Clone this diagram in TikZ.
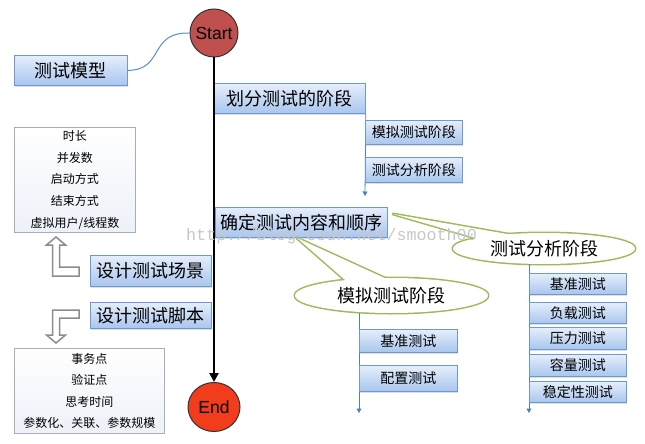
\documentclass[tikz,border=0pt]{standalone}
\usepackage{fontspec}
\setmainfont{Noto Sans CJK SC}
\newfontfamily\latinfont{Liberation Sans}
\newfontfamily\wmfont{Liberation Mono}
\usetikzlibrary{shapes.geometric,shadows,arrows.meta}
\definecolor{boxtop}{HTML}{E6EEFA}
\definecolor{boxbot}{HTML}{A8C6EE}
\definecolor{boxline}{HTML}{6A99D4}
\definecolor{branch}{HTML}{4F81BD}
\definecolor{callgreen}{HTML}{9BBB59}
\definecolor{startred}{HTML}{C0504D}
\definecolor{endred}{HTML}{F23C1C}
\definecolor{listline}{HTML}{A6AEBE}
\definecolor{listbot}{HTML}{EDF1F8}
\definecolor{curveblue}{HTML}{5B8CC8}
\definecolor{hollowgray}{HTML}{8C8C8C}
\begin{document}
\begin{tikzpicture}[x=1pt,y=-1pt,
  bbox/.style={draw=boxline, line width=0.8pt, top color=boxtop, bottom color=boxbot,
    inner sep=0pt, anchor=north west, font=\fontsize{18}{18}\selectfont,
    drop shadow={shadow xshift=1pt,shadow yshift=-1.2pt,opacity=0.25}},
  sbox/.style={bbox, font=\fontsize{14}{14}\selectfont},
  lbox/.style={draw=listline, line width=0.8pt, top color=white, bottom color=listbot,
    inner sep=0pt, anchor=north west, align=center, font=\fontsize{12}{21.6}\selectfont},
  branchline/.style={draw=branch, line width=0.8pt, -{Triangle[width=5pt,length=4.5pt]}},
  calloutline/.style={draw=callgreen, line width=3pt, line join=round},
  calltext/.style={font=\fontsize{18}{18}\selectfont},
  hollow/.style={draw=hollowgray, line width=1.5pt, fill=white, line join=miter},
]
\useasboundingbox (0,0) rectangle (645,444);

% left column
\node[bbox, minimum width=113pt, minimum height=30pt] (model) at (14,55) {测试模型};
\node[lbox, minimum width=121pt, minimum height=105pt] (params) at (14,127)
  {时长\\并发数\\启动方式\\结束方式\\虚拟用户/线程数};
\node[bbox, minimum width=121pt, minimum height=31pt] (scene) at (90,255) {设计测试场景};
\node[bbox, minimum width=121pt, minimum height=26pt] (script) at (90,302) {设计测试脚本};
\node[lbox, minimum width=150pt, minimum height=85pt] (points) at (14,348)
  {事务点\\验证点\\思考时间\\参数化、关联、参数规模};

% hollow L arrows
\draw[hollow] (56,237) -- (65.5,245) -- (59.5,245) -- (59.5,267) -- (79,267) -- (79,276)
  -- (52.5,276) -- (52.5,245) -- (46.5,245) -- cycle;
\draw[hollow] (79,310) -- (79,318) -- (59.5,318) -- (59.5,335) -- (65.5,335) -- (56,343)
  -- (46.5,335) -- (52.5,335) -- (52.5,310) -- cycle;

% start / end
\node[circle, draw=black!80, fill=startred, line width=1pt, minimum size=48pt, inner sep=0pt,
  font=\latinfont\fontsize{17.5}{18}\selectfont] (start) at (214,33) {Start};
\node[ellipse, draw=black!80, fill=endred, line width=1pt, minimum width=52pt, minimum height=49pt,
  inner sep=0pt, font=\latinfont\fontsize{17.5}{18}\selectfont] (end) at (214,407) {End};

\draw[curveblue, line width=1pt] (model.east) .. controls (165,70) and (148,32) .. (start.west);

% stage division
\node[bbox, minimum width=151pt, minimum height=30pt] (divide) at (214,83) {划分测试的阶段};
\coordinate (divbot) at (365,196);
\draw[branchline] (divide.south east) -- (divbot);
\node[sbox, minimum width=97pt, minimum height=24pt] (sim1) at (365,120) {模拟测试阶段};
\node[sbox, minimum width=97pt, minimum height=25pt] (ana1) at (365,157) {测试分析阶段};

% content and order
\node[bbox, minimum width=172pt, minimum height=30pt] (order) at (215,207) {确定测试内容和顺序};

% callout: analysis
\node[ellipse, calloutline, minimum width=182pt, minimum height=31pt, inner sep=0pt] (anaE) at (544,248.5) {};
\draw[calloutline] (393,214) -- (500,245) -- (530,238) -- cycle;
\fill[white] (393,214) -- (500,245) -- (530,238) -- cycle;
\fill[white] (anaE.center) ellipse [x radius=91pt, y radius=15.5pt];
\node[calltext] (anaT) at (anaE.center) {测试分析阶段};

% callout: simulation
\node[ellipse, calloutline, minimum width=193pt, minimum height=35pt, inner sep=0pt] (simE) at (391.5,295.5) {};
\draw[calloutline] (297,238) -- (360,293) -- (400,285) -- cycle;
\fill[white] (297,238) -- (360,293) -- (400,285) -- cycle;
\fill[white] (simE.center) ellipse [x radius=96.5pt, y radius=17.5pt];
\node[calltext] (simT) at (simE.center) {模拟测试阶段};

% simulation branch
\coordinate (simtop) at (359,313);
\coordinate (simbot) at (359,413);
\draw[branchline] (simtop) -- (simbot);
\node[sbox, minimum width=98pt, minimum height=23pt] (simB1) at (359,329) {基准测试};
\node[sbox, minimum width=98pt, minimum height=26pt] (simB2) at (359,365) {配置测试};

% analysis branch
\coordinate (anatop) at (529,263.5);
\coordinate (anabot) at (529,413);
\draw[branchline] (anatop) -- (anabot);
\node[sbox, minimum width=97pt, minimum height=21pt] (anaB1) at (529,273) {基准测试};
\node[sbox, minimum width=97pt, minimum height=21pt] (anaB2) at (529,302) {负载测试};
\node[sbox, minimum width=97pt, minimum height=22pt] (anaB3) at (529,327) {压力测试};
\node[sbox, minimum width=97pt, minimum height=22pt] (anaB4) at (529,354) {容量测试};
\node[sbox, minimum width=97pt, minimum height=21pt] (anaB5) at (529,381) {稳定性测试};

% main flow
\draw[black, line width=2.5pt, -{Triangle[width=9pt,length=9pt]}] (start) -- (end);

% watermark
\node[font=\wmfont\fontsize{16.7}{17}\selectfont, text=black!22, anchor=base west, inner sep=0pt]
  (wm) at (186,240) {http://blog.csdn.net/smooth00};
\end{tikzpicture}
\end{document}
